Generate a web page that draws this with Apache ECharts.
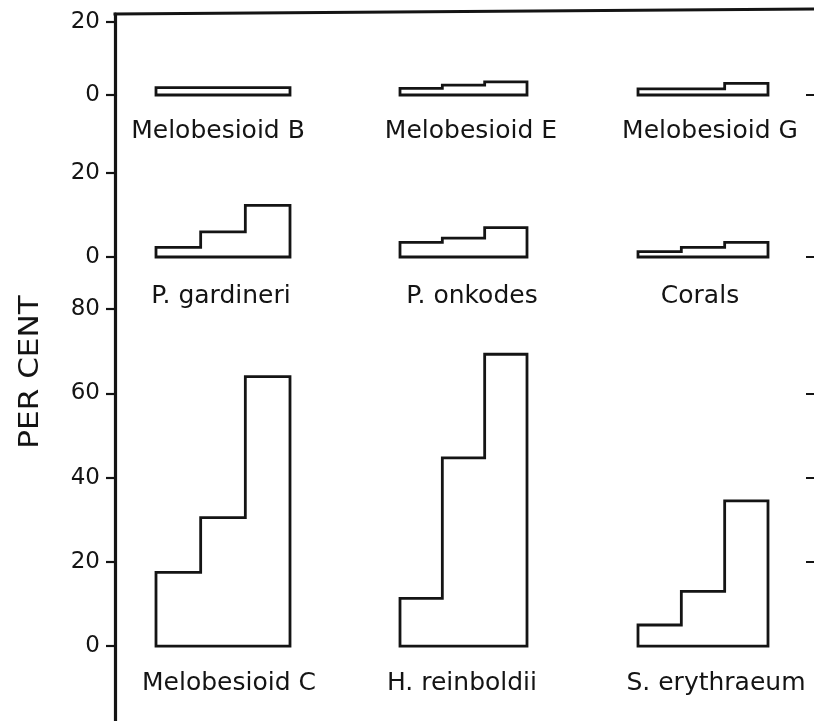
<!DOCTYPE html>
<html><head><meta charset="utf-8">
<script src="https://cdn.jsdelivr.net/npm/echarts@6/dist/echarts.min.js"></script>
<style>html,body{margin:0;padding:0;background:#fff}#c{width:814px;height:721px}</style>
</head><body><div id="c"></div>
<script>
// ---- data (per cent, three successive intervals per taxon) ----
const panelNames = [
  ['Melobesioid B', 'Melobesioid E', 'Melobesioid G'],
  ['P. gardineri', 'P. onkodes', 'Corals'],
  ['Melobesioid C', 'H. reinboldii', 'S. erythraeum']
];
const binEdges = [0, 1, 2, 3];
const melobesioidB = [2, 2, 2];
const melobesioidE = [1.8, 2.7, 3.6];
const melobesioidG = [1.7, 1.7, 3.2];
const pGardineri = [2.3, 6, 12.3];
const pOnkodes = [3.5, 4.5, 7];
const corals = [1.3, 2.3, 3.5];
const melobesioidC = [17.5, 30.5, 64];
const hReinboldii = [11.3, 44.7, 69.3];
const sErythraeum = [5, 13, 34.5];
const rowTicks = [[0, 20], [0, 20], [0, 20, 40, 60, 80]];
const rightTicks = [[0], [0], [20, 40, 60]];
const axisTitle = 'PER CENT';

const panelData = [
  [melobesioidB, melobesioidE, melobesioidG],
  [pGardineri, pOnkodes, corals],
  [melobesioidC, hReinboldii, sErythraeum]
];

// ---- layout ----
const rows = [
  { top: 14, height: 81, min: 0, max: 22.2, labelY: 131 },
  { top: 95, height: 162, min: 0, max: 38.6, labelY: 296 },
  { top: 257, height: 464, min: -17.8, max: 92.4, labelY: 683 }
];
const cols = [
  { left: 156, width: 134 },
  { left: 400, width: 127 },
  { left: 638, width: 130 }
];
const labelX = [[218, 471, 710], [221, 472, 700], [229, 462, 716]];
const axisX = 115;
const ink = '#141414';
const labelFont = '"DejaVu Sans"';
const tickFont = '"DejaVu Sans", sans-serif';

function outline(v) {
  const pts = [[binEdges[0], 0]];
  for (let i = 0; i < v.length; i++) {
    pts.push([binEdges[i], v[i]]);
    pts.push([binEdges[i + 1], v[i]]);
  }
  pts.push([binEdges[v.length], 0]);
  pts.push([binEdges[0], 0]);
  return pts;
}

const grid = [], xAxis = [], yAxis = [], series = [], graphic = [];
rows.forEach((r, ri) => {
  cols.forEach((c, ci) => {
    const idx = grid.length;
    grid.push({ left: c.left, top: r.top, width: c.width, height: r.height, containLabel: false });
    xAxis.push({ type: 'value', gridIndex: idx, min: 0, max: 3, show: false });
    const first = ci === 0;
    const last = ci === 2;
    yAxis.push({
      type: 'value', gridIndex: idx, min: r.min, max: r.max, show: first,
      position: 'left', offset: c.left - axisX,
      splitLine: { show: false },
      axisLine: { show: true, onZero: false, lineStyle: { color: ink, width: 3.2 } },
      axisTick: { show: true, length: 9, lineStyle: { color: ink, width: 2.2 }, customValues: rowTicks[ri] },
      axisLabel: { show: true, margin: 15, color: ink, fontFamily: tickFont, fontSize: 23, customValues: rowTicks[ri] }
    });
    if (last) {
      // ticks of the neighbouring (cropped) figure along the right edge
      yAxis.push({
        type: 'value', gridIndex: idx, min: r.min, max: r.max, show: true,
        position: 'right', offset: 816 - (c.left + c.width),
        splitLine: { show: false },
        axisLine: { show: false, onZero: false },
        axisTick: { show: true, inside: true, length: 10, lineStyle: { color: ink, width: 2 }, customValues: rightTicks[ri] },
        axisLabel: { show: false }
      });
    }
    series.push({
      type: 'line', name: panelNames[ri][ci], xAxisIndex: idx, yAxisIndex: yAxis.length - (last ? 2 : 1),
      data: outline(panelData[ri][ci]), symbol: 'none', clip: false, silent: true,
      lineStyle: { color: ink, width: 2.8, join: 'miter', cap: 'square' }
    });
    graphic.push({
      type: 'text', x: labelX[ri][ci], y: r.labelY,
      style: { text: panelNames[ri][ci], fill: ink, font: '25px ' + labelFont, textAlign: 'center', textVerticalAlign: 'middle' }
    });
  });
});

graphic.push({
  type: 'line', shape: { x1: axisX - 1.5, y1: 14, x2: 814, y2: 9 },
  style: { stroke: ink, lineWidth: 3.2 }
});
graphic.push({
  type: 'text', x: 31, y: 372, rotation: Math.PI / 2, scaleX: 1.15,
  style: { text: axisTitle, fill: ink, font: '27px ' + labelFont, textAlign: 'center', textVerticalAlign: 'middle' }
});

const chart = echarts.init(document.getElementById('c'), null, { renderer: 'canvas' });
chart.setOption({
  backgroundColor: '#ffffff',
  animation: false,
  grid, xAxis, yAxis, series, graphic
});
</script>
</body></html>
